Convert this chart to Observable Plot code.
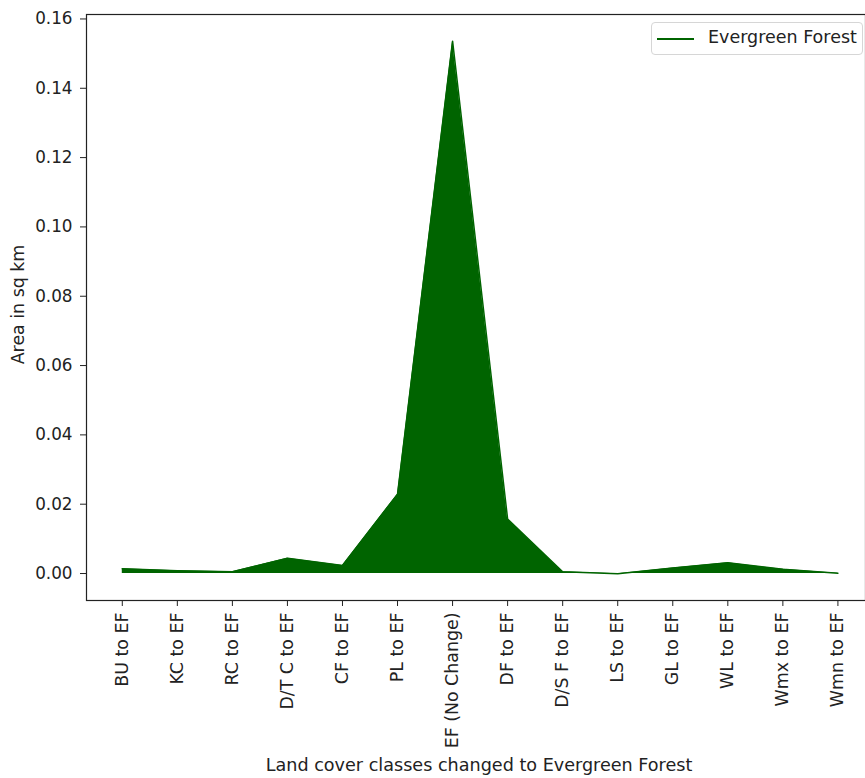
<!DOCTYPE html>
<html>
<head>
<meta charset="utf-8">
<script src="https://cdn.jsdelivr.net/npm/d3@7"></script>
<script src="https://cdn.jsdelivr.net/npm/@observablehq/plot@0.6"></script>
<style>
  html, body { margin: 0; padding: 0; background: white; overflow: hidden; }
  #wrap { position: relative; width: 865px; height: 778px; }
  #legend { position: absolute; left: 651px; top: 22px; width: 212px; height: 33px;
    border: 1px solid #d6d6d6; border-radius: 4px; background: rgba(255,255,255,0.8);
    font-family: "DejaVu Sans", sans-serif; font-size: 17.5px; color: #222; box-sizing: border-box; }
  #legend .sw { position: absolute; left: 5px; top: 14.5px; width: 37px; height: 0; border-top: 2px solid darkgreen; }
  #legend .lb { position: absolute; left: 56px; top: 4px; white-space: nowrap; }
</style>
</head>
<body>
<div id="wrap"></div>
<script>
const categories = ["BU to EF", "KC to EF", "RC to EF", "D/T C to EF", "CF to EF", "PL to EF",
  "EF (No Change)", "DF to EF", "D/S F to EF", "LS to EF", "GL to EF", "WL to EF", "Wmx to EF", "Wmn to EF"];
const values = [0.0014, 0.0008, 0.0005, 0.0044, 0.0023, 0.0229, 0.1536, 0.0157, 0.0005, -0.0001, 0.0016, 0.0031, 0.0012, 0.0001];
const yTicks = [0, 0.02, 0.04, 0.06, 0.08, 0.10, 0.12, 0.14, 0.16];
const seriesName = "Evergreen Forest";
const xTitle = "Land cover classes changed to Evergreen Forest";
const yTitle = "Area in sq km";

const data = categories.map((c, i) => ({i, c, v: values[i]}));
const n = categories.length;
const ymin = Math.min(0, d3.min(values)), ymax = d3.max(values);
const pad = (ymax - ymin) * 0.05;
const xpad = (n - 1) * 0.05;

const W = 865, H = 778, mL = 86, mT = 14, mB = 178;
const xUnit = (W + 8.2 - mL) / (n - 1 + 2 * xpad);

const chart = Plot.plot({
  width: W,
  height: H,
  marginLeft: mL,
  marginRight: 0,
  marginTop: mT,
  marginBottom: mB,
  style: {fontFamily: "DejaVu Sans, sans-serif", fontSize: "17.4px", color: "#222", background: "white"},
  x: {domain: [-xpad, n - 1 + xpad], range: [mL, mL + (n - 1 + 2 * xpad) * xUnit]},
  y: {domain: [ymin - pad, ymax + pad]},
  marks: [
    Plot.areaY(data, {x: "i", y: "v", fill: "darkgreen"}),
    Plot.lineY(data, {x: "i", y: "v", stroke: "darkgreen", strokeWidth: 1.5}),
    Plot.axisY({ticks: yTicks, tickFormat: d3.format(".2f"), tickSize: 6, tickPadding: 8, label: null, stroke: "#222", fontSize: 16.8}),
    Plot.axisX({ticks: d3.range(n), tickFormat: i => categories[i], tickRotate: -90, tickSize: 6, tickPadding: 6, label: null, stroke: "#222"}),
    Plot.frame({stroke: "#222", strokeWidth: 1.2}),
    Plot.text([xTitle], {text: d => d, frameAnchor: "bottom", lineAnchor: "middle", textAnchor: "middle", dx: 3, dy: 165, fontSize: 17.6}),
    Plot.text([yTitle], {text: d => d, frameAnchor: "left", lineAnchor: "middle", textAnchor: "middle", rotate: -90, dx: -68, dy: -3, fontSize: 17.4})
  ]
});

const wrap = document.getElementById("wrap");
wrap.appendChild(chart);
const lg = document.createElement("div");
lg.id = "legend";
lg.innerHTML = `<div class="sw"></div><div class="lb">${seriesName}</div>`;
wrap.appendChild(lg);
</script>
</body>
</html>
